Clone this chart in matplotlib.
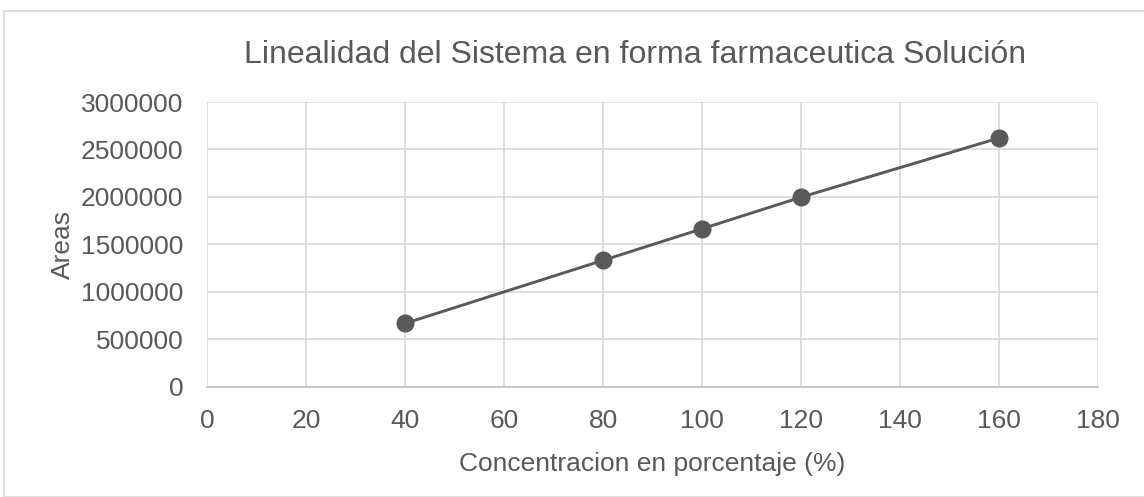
import matplotlib
matplotlib.use("Agg")
import matplotlib.pyplot as plt
from matplotlib.patches import Rectangle

concentracion = [40, 80, 100, 120, 160]
areas = [665000, 1330000, 1663000, 1996000, 2620000]
x_ticks = [0, 20, 40, 60, 80, 100, 120, 140, 160, 180]
y_ticks = [0, 500000, 1000000, 1500000, 2000000, 2500000, 3000000]

plt.rcParams['font.family'] = ['Liberation Sans', 'DejaVu Sans']
txt = '#595959'
grid = '#d9d9d9'

W, H = 1144, 497
fig = plt.figure(figsize=(W / 100, H / 100), dpi=100)
fig.patch.set_facecolor('white')
fig.add_artist(Rectangle((4 / W, 0), 1.2, (H - 11) / H, transform=fig.transFigure,
                         fill=False, edgecolor='#d9d9d9', linewidth=1.2))

left, right, top, bottom = 207, 1098, 102, 386.5
ax = fig.add_axes([left / W, 1 - bottom / H, (right - left) / W, (bottom - top) / H])
ax.plot(concentracion, areas, color=txt, linewidth=2.1, marker='o', markersize=12,
        markerfacecolor=txt, markeredgecolor=txt, zorder=3)
ax.set_xlim(0, 180)
ax.set_ylim(0, 3000000)
ax.set_xticks(x_ticks)
ax.set_yticks(y_ticks)
ax.set_xticklabels([str(v) for v in x_ticks])
ax.set_yticklabels([str(v) for v in y_ticks])
ax.grid(True, color=grid, linewidth=1.2)
ax.set_axisbelow(True)
for s in ['top', 'right', 'left']:
    ax.spines[s].set_visible(False)
ax.spines['bottom'].set_color('#bfbfbf')
ax.spines['bottom'].set_linewidth(1.2)
ax.tick_params(axis='both', length=0, colors=txt, labelsize=19)
ax.tick_params(axis='x', pad=16)
ax.tick_params(axis='y', pad=17)
ax.set_xlabel('Concentracion en porcentaje (%)', fontsize=19, color=txt, labelpad=14)
ax.set_ylabel('Areas', fontsize=19, color=txt, labelpad=4)
fig.text(635 / W, 1 - 55 / H, 'Linealidad del Sistema en forma farmaceutica Solución',
         ha='center', va='center', fontsize=23, color=txt)

fig.savefig('out.png', dpi=100)
